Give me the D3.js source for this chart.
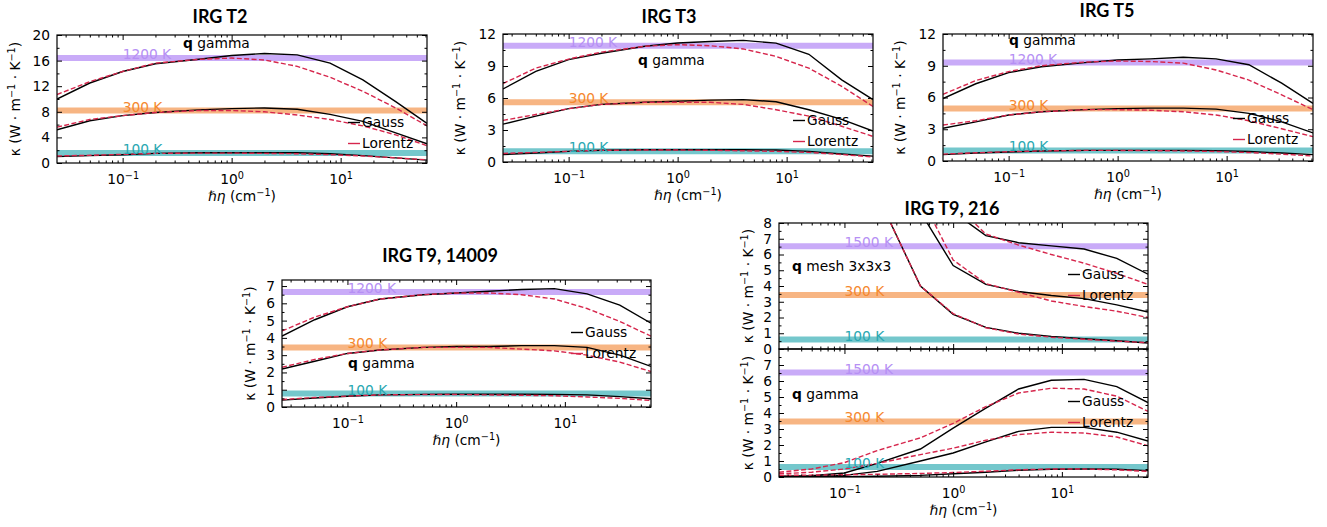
<!DOCTYPE html>
<html>
<head>
<meta charset="utf-8">
<script src="https://cdn.jsdelivr.net/npm/d3@7"></script>
<style>
  body { margin: 0; background: #fff; }
  text { font-family: "DejaVu Sans", sans-serif; }
  .title { font-family: "Lato", "Open Sans", sans-serif; font-weight: 700; }
</style>
</head>
<body>
<svg id="fig" width="1327" height="527"></svg>
<script>
// broadening eta (cm^-1) grid shared by every curve
const etas = [0.025, 0.05, 0.1, 0.2, 0.5, 1, 2, 4, 8, 16, 32, 62];
const xDomain = [0.025, 62];
const xMajor = [0.1, 1, 10];
const xMajorExp = ["\u22121", "0", "1"];

// IRG T2
const t2Gauss1200 = [10.0, 12.5, 14.3, 15.5, 16.2, 16.8, 17.1, 16.9, 15.6, 13.0, 9.6, 6.2];
const t2Lorentz1200 = [10.7, 12.7, 14.3, 15.6, 16.2, 16.4, 16.1, 15.1, 13.4, 11.2, 8.6, 5.8];
const t2Gauss300 = [5.2, 6.6, 7.4, 7.9, 8.3, 8.5, 8.6, 8.4, 7.6, 6.5, 4.7, 3.0];
const t2Lorentz300 = [5.6, 6.8, 7.4, 7.9, 8.2, 8.2, 8.0, 7.5, 6.8, 5.8, 4.4, 2.7];
const t2Gauss100 = [1.0, 1.15, 1.3, 1.5, 1.6, 1.6, 1.6, 1.6, 1.45, 1.15, 0.8, 0.45];
const t2Lorentz100 = [1.1, 1.2, 1.35, 1.5, 1.55, 1.55, 1.5, 1.45, 1.3, 1.1, 0.8, 0.5];
const t2Ref = [16.4, 8.2, 1.55];

// IRG T3
const t3Gauss1200 = [6.85, 8.5, 9.6, 10.2, 10.85, 11.15, 11.3, 11.4, 11.15, 10.1, 7.7, 5.85];
const t3Lorentz1200 = [7.35, 8.8, 9.65, 10.3, 10.85, 11.0, 10.9, 10.6, 9.9, 8.8, 7.1, 5.2];
const t3Gauss300 = [3.55, 4.3, 5.0, 5.4, 5.6, 5.7, 5.8, 5.85, 5.65, 4.9, 4.0, 2.9];
const t3Lorentz300 = [3.9, 4.45, 5.0, 5.4, 5.6, 5.6, 5.6, 5.4, 4.9, 4.3, 3.35, 2.4];
const t3Gauss100 = [0.7, 0.85, 1.0, 1.1, 1.15, 1.15, 1.15, 1.15, 1.12, 1.0, 0.75, 0.55];
const t3Lorentz100 = [0.8, 0.9, 1.0, 1.1, 1.12, 1.12, 1.1, 1.05, 1.0, 0.9, 0.7, 0.47];
const t3Ref = [10.9, 5.6, 1.0];

// IRG T5
const t5Gauss1200 = [5.9, 7.3, 8.35, 8.9, 9.3, 9.55, 9.65, 9.8, 9.65, 9.1, 7.35, 5.45];
const t5Lorentz1200 = [6.3, 7.6, 8.45, 9.0, 9.35, 9.45, 9.4, 9.25, 8.6, 7.65, 6.25, 4.85];
const t5Gauss300 = [3.1, 3.7, 4.35, 4.65, 4.85, 4.95, 5.0, 5.0, 4.9, 4.5, 3.7, 2.65];
const t5Lorentz300 = [3.4, 3.8, 4.35, 4.65, 4.85, 4.85, 4.8, 4.65, 4.35, 3.8, 3.05, 2.3];
const t5Gauss100 = [0.6, 0.75, 0.85, 0.95, 1.0, 1.0, 1.0, 1.0, 0.98, 0.9, 0.75, 0.6];
const t5Lorentz100 = [0.65, 0.78, 0.88, 0.95, 1.0, 1.0, 0.98, 0.95, 0.9, 0.8, 0.65, 0.47];
const t5Ref = [9.3, 4.95, 1.0];

// IRG T9, 14009 atoms
const t9aGauss1200 = [4.1, 5.05, 5.8, 6.25, 6.5, 6.6, 6.7, 6.8, 6.85, 6.55, 5.9, 4.85];
const t9aLorentz1200 = [4.4, 5.2, 5.8, 6.25, 6.5, 6.6, 6.6, 6.5, 6.25, 5.7, 4.95, 4.1];
const t9aGauss300 = [2.2, 2.65, 3.1, 3.3, 3.45, 3.5, 3.5, 3.55, 3.55, 3.45, 3.0, 2.35];
const t9aLorentz300 = [2.3, 2.75, 3.1, 3.3, 3.45, 3.45, 3.45, 3.35, 3.25, 3.0, 2.6, 2.05];
const t9aGauss100 = [0.4, 0.52, 0.62, 0.7, 0.73, 0.74, 0.74, 0.74, 0.73, 0.7, 0.6, 0.48];
const t9aLorentz100 = [0.43, 0.55, 0.63, 0.7, 0.72, 0.72, 0.7, 0.68, 0.65, 0.58, 0.5, 0.38];
const t9aRef = [6.65, 3.45, 0.78];

// IRG T9, 216 atoms, q mesh 3x3x3
const t9mGauss1500 = [60, 40, 25, 15, 11, 8.7, 7.2, 6.75, 6.55, 6.35, 5.75, 4.75];
const t9mLorentz1500 = [60, 40, 25, 15, 11, 9.3, 7.3, 6.6, 6.0, 5.45, 4.8, 4.1];
const t9mGauss300 = [50, 30, 20, 12, 8.7, 5.3, 4.1, 3.65, 3.4, 3.2, 2.8, 2.35];
const t9mLorentz300 = [50, 30, 20, 12, 9.7, 5.65, 4.15, 3.6, 3.05, 2.7, 2.4, 2.0];
const t9mGauss100 = [40, 25, 15, 9.8, 4.0, 2.2, 1.37, 1.0, 0.8, 0.65, 0.52, 0.38];
const t9mLorentz100 = [40, 25, 15, 9.8, 4.0, 2.25, 1.35, 0.95, 0.75, 0.62, 0.5, 0.4];
const t9mRef = [6.53, 3.43, 0.6];

// IRG T9, 216 atoms, q gamma
const t9gGauss1500 = [0.05, 0.08, 0.25, 0.85, 1.75, 3.05, 4.3, 5.5, 6.05, 6.1, 5.65, 4.65];
const t9gLorentz1500 = [0.3, 0.5, 0.9, 1.65, 2.45, 3.35, 4.4, 5.25, 5.55, 5.5, 5.05, 4.1];
const t9gGauss300 = [0.02, 0.04, 0.1, 0.35, 1.0, 1.5, 2.2, 2.85, 3.1, 3.1, 2.8, 2.25];
const t9gLorentz300 = [0.2, 0.3, 0.5, 0.85, 1.4, 1.8, 2.3, 2.65, 2.8, 2.75, 2.5, 1.95];
const t9gGauss100 = [0.0, 0.0, 0.02, 0.05, 0.1, 0.2, 0.3, 0.42, 0.48, 0.5, 0.48, 0.4];
const t9gLorentz100 = [0.1, 0.12, 0.14, 0.17, 0.22, 0.28, 0.36, 0.45, 0.5, 0.5, 0.45, 0.35];
const t9gRef = [6.53, 3.47, 0.62];

const tempsLow = ["1200 K", "300 K", "100 K"];
const tempsHigh = ["1500 K", "300 K", "100 K"];
const bandColors = ["#c9abf8", "#f7b583", "#74c7cc"];
const labelColors = ["#b690f4", "#f5882e", "#2aa8b2"];
const gaussColor = "#000";
const lorentzColor = "#d6264c";
const fs = 13.8;

const svg = d3.select("#fig");
let clipId = 0;

// write text with superscript pieces: parts = [[str, isSup], ...]
function rich(sel, parts) {
  let up = false;
  parts.forEach(([s, isSup]) => {
    const t = sel.append("tspan").text(s);
    if (isSup && !up) { t.attr("dy", -5.5).attr("font-size", 9.7); up = true; }
    else if (isSup) { t.attr("font-size", 9.7); }
    else if (up) { t.attr("dy", 5.5); up = false; }
  });
}

function panel(cfg) {
  const w = cfg.width, h = cfg.height;
  const g = svg.append("g").attr("transform", `translate(${cfg.left},${cfg.top})`);
  const x = d3.scaleLog().domain(xDomain).range([0, w]);
  const y = d3.scaleLinear().domain([0, cfg.ymax]).range([h, 0]);

  const id = "clip" + (clipId++);
  g.append("clipPath").attr("id", id).append("rect").attr("width", w).attr("height", h);
  const plot = g.append("g").attr("clip-path", `url(#${id})`);

  // reference bands
  cfg.ref.forEach((v, i) => {
    plot.append("line")
      .attr("x1", 0).attr("x2", w)
      .attr("y1", y(v)).attr("y2", y(v))
      .attr("stroke", bandColors[i]).attr("stroke-width", 6);
  });
  cfg.ref.forEach((v, i) => {
    g.append("text")
      .attr("x", x(0.1)).attr("y", y(v) + 1)
      .attr("font-size", fs).attr("fill", labelColors[i])
      .text(cfg.temps[i]);
  });

  const line = d3.line().x((d) => x(d[0])).y((d) => y(d[1]));
  cfg.curves.forEach(([gauss, lorentz]) => {
    plot.append("path")
      .attr("d", line(d3.zip(etas, gauss)))
      .attr("fill", "none").attr("stroke", gaussColor).attr("stroke-width", 1.4);
    plot.append("path")
      .attr("d", line(d3.zip(etas, lorentz)))
      .attr("fill", "none").attr("stroke", lorentzColor).attr("stroke-width", 1.4)
      .attr("stroke-dasharray", "5,2.4");
  });

  // axes, ticks pointing inward on all four sides
  const xMinor = [];
  [0.01, 0.1, 1, 10].forEach((d) => {
    for (let k = 2; k <= 9; k++) {
      const v = k * d;
      if (v >= xDomain[0] && v <= xDomain[1]) xMinor.push(v);
    }
  });
  const yMinor = [];
  for (let v = cfg.ystep / 2; v < cfg.ymax; v += cfg.ystep) yMinor.push(v);

  const style = (a) => a.attr("font-size", fs).attr("font-family", null)
    .call((s) => s.select(".domain").remove());

  const xb = g.append("g").attr("transform", `translate(0,${h})`)
    .call(d3.axisBottom(x).tickValues(xMajor).tickSizeInner(-5).tickSizeOuter(0).tickPadding(11.5)
      .tickFormat(() => ""))
    .call(style);
  if (cfg.xLabels) {
    xb.selectAll(".tick text").each(function (d, i) {
      rich(d3.select(this), [["10", false], [xMajorExp[i], true]]);
    });
  }
  g.append("g").attr("transform", `translate(0,${h})`)
    .call(d3.axisBottom(x).tickValues(xMinor).tickSizeInner(-2.5).tickSizeOuter(0).tickFormat(() => ""))
    .call(style);
  g.append("g")
    .call(d3.axisTop(x).tickValues(xMajor).tickSizeInner(-5).tickSizeOuter(0).tickFormat(() => ""))
    .call(style);
  g.append("g")
    .call(d3.axisTop(x).tickValues(xMinor).tickSizeInner(-2.5).tickSizeOuter(0).tickFormat(() => ""))
    .call(style);

  g.append("g")
    .call(d3.axisLeft(y).tickValues(cfg.yTicks).tickSizeInner(-5).tickSizeOuter(0).tickPadding(7)
      .tickFormat(d3.format("d")))
    .call(style);
  g.append("g")
    .call(d3.axisLeft(y).tickValues(yMinor).tickSizeInner(-2.5).tickSizeOuter(0).tickFormat(() => ""))
    .call(style);
  g.append("g").attr("transform", `translate(${w},0)`)
    .call(d3.axisRight(y).tickValues(cfg.yTicks).tickSizeInner(-5).tickSizeOuter(0).tickFormat(() => ""))
    .call(style);
  g.append("g").attr("transform", `translate(${w},0)`)
    .call(d3.axisRight(y).tickValues(yMinor).tickSizeInner(-2.5).tickSizeOuter(0).tickFormat(() => ""))
    .call(style);

  g.append("rect").attr("width", w).attr("height", h)
    .attr("fill", "none").attr("stroke", "#000").attr("stroke-width", 1.2);

  // axis labels
  const yl = g.append("text")
    .attr("transform", `translate(${cfg.ylabX},${h / 2}) rotate(-90)`)
    .attr("text-anchor", "middle").attr("font-size", fs);
  rich(yl, [["\u03ba (W \u00b7 m", false], ["\u22121", true], [" \u00b7 K", false], ["\u22121", true], [")", false]]);

  if (cfg.xLabels) {
    const xl = g.append("text").attr("x", w / 2).attr("y", h + 38)
      .attr("text-anchor", "middle").attr("font-size", fs);
    xl.append("tspan").attr("font-style", "italic").text("\u210f\u03b7");
    rich(xl, [[" (cm", false], ["\u22121", true], [")", false]]);
  }

  // q annotation
  const qt = g.append("text").attr("x", cfg.q[0]).attr("y", cfg.q[1]).attr("font-size", fs);
  qt.append("tspan").attr("font-weight", "bold").text("q");
  qt.append("tspan").text(" " + cfg.qText);

  // legend
  const lg = g.append("g").attr("transform", `translate(${cfg.leg[0]},${cfg.leg[1]})`);
  [["Gauss", gaussColor], ["Lorentz", lorentzColor]].forEach(([name, c], i) => {
    const yy = i * 21;
    lg.append("line").attr("x1", -14).attr("x2", -2).attr("y1", yy - 4.5).attr("y2", yy - 4.5)
      .attr("stroke", c).attr("stroke-width", 1.4);
    lg.append("text").attr("x", 0).attr("y", yy).attr("font-size", fs).text(name);
  });

  if (cfg.title) {
    svg.append("text").attr("class", "title")
      .attr("x", cfg.title[1]).attr("y", cfg.title[2])
      .attr("text-anchor", "middle").attr("font-size", 18)
      .text(cfg.title[0]);
  }
}

panel({
  left: 57, top: 35, width: 370, height: 128, ymax: 20, ystep: 4,
  yTicks: [0, 4, 8, 12, 16, 20], ref: t2Ref, temps: tempsLow,
  curves: [[t2Gauss1200, t2Lorentz1200], [t2Gauss300, t2Lorentz300], [t2Gauss100, t2Lorentz100]],
  xLabels: true, ylabX: -37, q: [126, 13], qText: "gamma", leg: [305, 92],
  title: ["IRG T2", 220, 23]
});
panel({
  left: 503, top: 34, width: 370, height: 128, ymax: 12, ystep: 3,
  yTicks: [0, 3, 6, 9, 12], ref: t3Ref, temps: tempsLow,
  curves: [[t3Gauss1200, t3Lorentz1200], [t3Gauss300, t3Lorentz300], [t3Gauss100, t3Lorentz100]],
  xLabels: true, ylabX: -38, q: [135, 31], qText: "gamma", leg: [304, 91],
  title: ["IRG T3", 669, 23]
});
panel({
  left: 943, top: 34, width: 370, height: 127, ymax: 12, ystep: 3,
  yTicks: [0, 3, 6, 9, 12], ref: t5Ref, temps: tempsLow,
  curves: [[t5Gauss1200, t5Lorentz1200], [t5Gauss300, t5Lorentz300], [t5Gauss100, t5Lorentz100]],
  xLabels: true, ylabX: -38, q: [66, 11], qText: "gamma", leg: [304, 89],
  title: ["IRG T5", 1107, 17]
});
panel({
  left: 282, top: 280, width: 369, height: 127, ymax: 7.35, ystep: 1,
  yTicks: [0, 1, 2, 3, 4, 5, 6, 7], ref: t9aRef, temps: tempsLow,
  curves: [[t9aGauss1200, t9aLorentz1200], [t9aGauss300, t9aLorentz300], [t9aGauss100, t9aLorentz100]],
  xLabels: true, ylabX: -27, q: [66, 88], qText: "gamma", leg: [303, 57],
  title: ["IRG T9, 14009", 440, 262]
});
panel({
  left: 779, top: 223, width: 369, height: 126, ymax: 8, ystep: 1,
  yTicks: [0, 1, 2, 3, 4, 5, 6, 7, 8], ref: t9mRef, temps: tempsHigh,
  curves: [[t9mGauss1500, t9mLorentz1500], [t9mGauss300, t9mLorentz300], [t9mGauss100, t9mLorentz100]],
  xLabels: false, ylabX: -26, q: [13, 48], qText: "mesh 3x3x3", leg: [303, 56],
  title: ["IRG T9, 216", 952, 215]
});
panel({
  left: 779, top: 349, width: 369, height: 128, ymax: 8, ystep: 1,
  yTicks: [0, 1, 2, 3, 4, 5, 6, 7], ref: t9gRef, temps: tempsHigh,
  curves: [[t9gGauss1500, t9gLorentz1500], [t9gGauss300, t9gLorentz300], [t9gGauss100, t9gLorentz100]],
  xLabels: true, ylabX: -26, q: [13, 50], qText: "gamma", leg: [303, 57],
  title: null
});
</script>
</body>
</html>
